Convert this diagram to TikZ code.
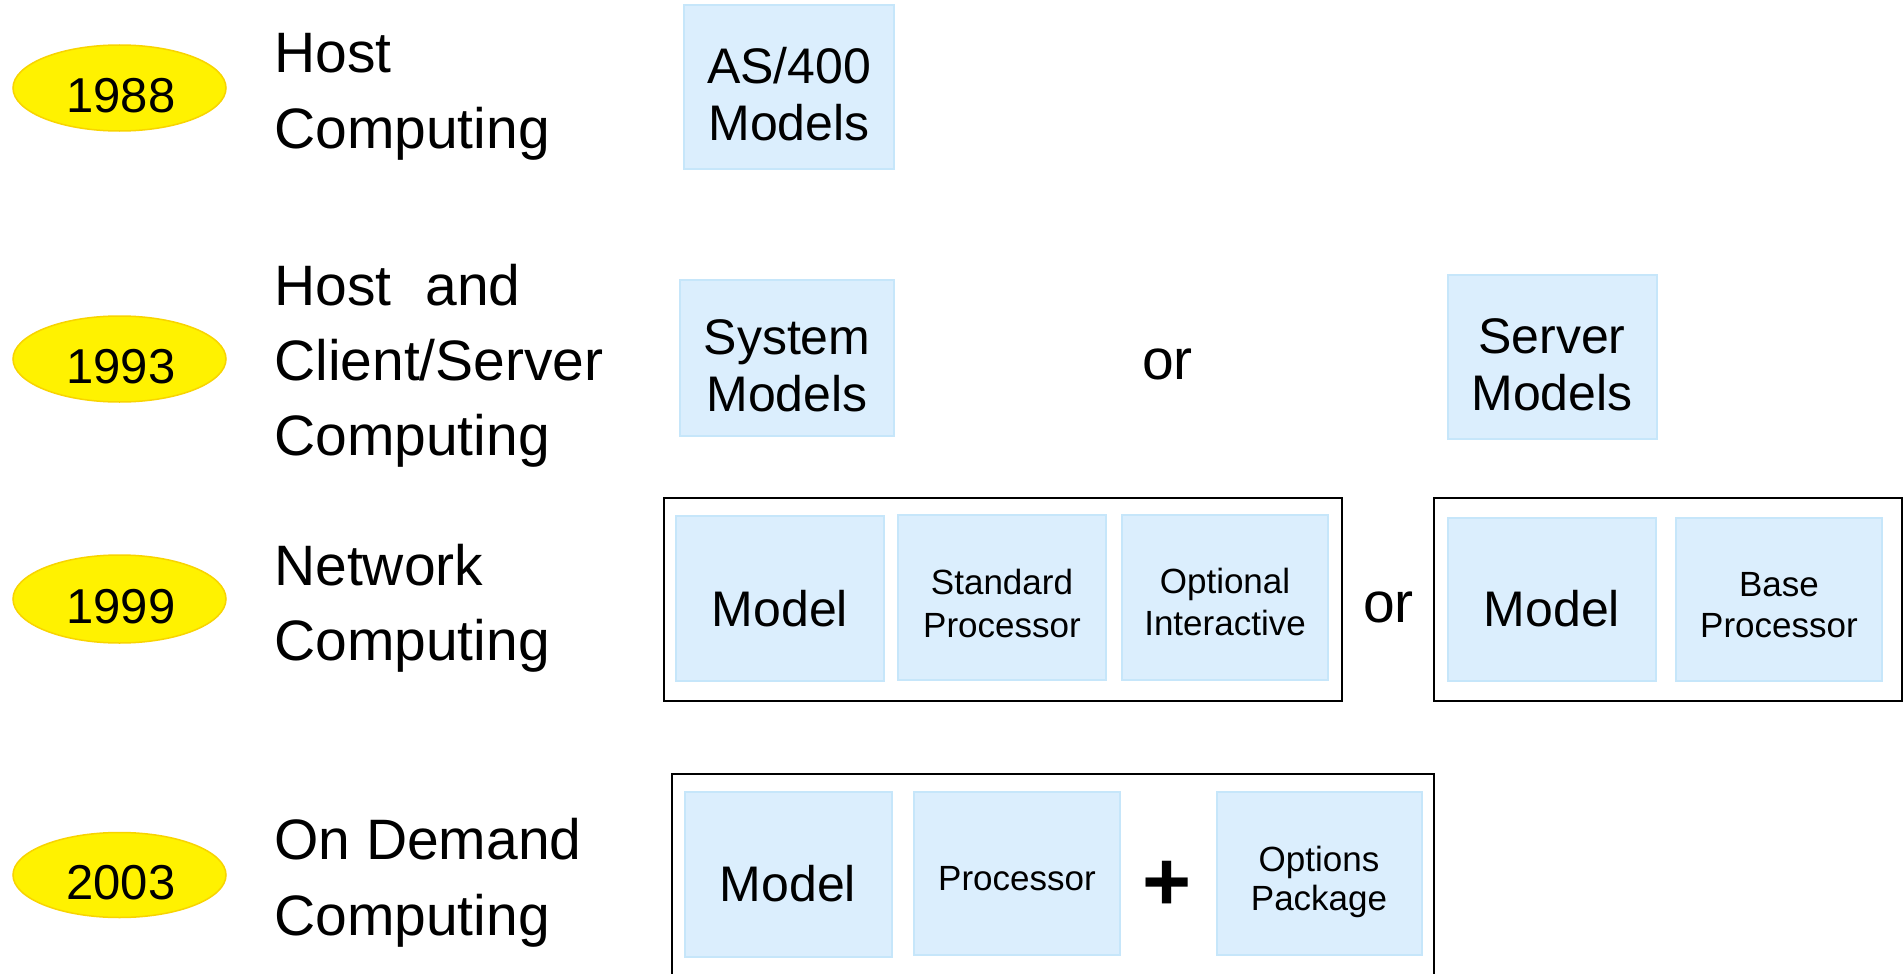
\documentclass[tikz,border=0pt]{standalone}
\usepackage{fontspec}
\setmainfont{Liberation Sans}
\usetikzlibrary{fit,shapes.geometric}
\definecolor{boxfill}{RGB}{219,238,253}
\definecolor{boxline}{RGB}{198,230,250}
\definecolor{ovalline}{RGB}{248,212,0}
\begin{document}
\begin{tikzpicture}[x=1pt,y=-1pt,
  yearoval/.style={ellipse, fill=yellow, draw=ovalline, line width=1.5pt, inner sep=0pt, minimum width=213pt},
  bluebox/.style={fill=boxfill, draw=boxline, line width=1.5pt, inner sep=0pt},
  framebox/.style={draw=black, line width=1.6pt, inner sep=0pt},
  lbl/.style={font=\fontsize{57}{75}\selectfont, anchor=base west, inner sep=0pt},
  yeartxt/.style={font=\fontsize{49}{55}\selectfont, anchor=base, inner sep=0pt},
  boxtxt/.style={font=\fontsize{50}{56}\selectfont, anchor=base, inner sep=0pt},
  smalltxt/.style={font=\fontsize{35}{42}\selectfont, anchor=base, inner sep=0pt},
  ortxt/.style={font=\fontsize{57}{60}\selectfont, anchor=base west, inner sep=0pt}
]
\fill[white] (0,0) rectangle (1904,974);
\useasboundingbox (0,0) rectangle (1904,974);

% ---------- year ovals ----------
\node[yearoval, minimum height=86pt] (o88) at (119.5,88) {};
\node[yeartxt] (y88) at (121,113) {1988};
\node[yearoval, minimum height=86pt] (o93) at (119.5,359) {};
\node[yeartxt] (y93) at (121,383) {1993};
\node[yearoval, minimum height=88pt] (o99) at (119.5,599) {};
\node[yeartxt] (y99) at (121,623) {1999};
\node[yearoval, minimum height=85pt] (o03) at (119.5,875) {};
\node[yeartxt] (y03) at (121,899) {2003};

% ---------- row labels ----------
\node[lbl] (l1a) at (274,73) {Host};
\node[lbl] (l1b) at (274,148) {Computing};
\node[lbl] (l2a) at (274,305) {Host\hspace{34pt}and};
\node[lbl] (l2b) at (274,380) {Client/Server};
\node[lbl] (l2c) at (274,455) {Computing};
\node[lbl] (l3a) at (274,585) {Network};
\node[lbl] (l3b) at (274,660) {Computing};
\node[lbl] (l4a) at (274,859) {On Demand};
\node[lbl] (l4b) at (274,935) {Computing};

% ---------- row 1 ----------
\node[bluebox, fit={(684,5) (894,169)}] (as400) {};
\node[boxtxt] (as400a) at (789,84) {AS/400};
\node[boxtxt] (as400b) at (789,140) {Models};

% ---------- row 2 ----------
\node[bluebox, fit={(680,280) (894,436)}] (sysm) {};
\node[boxtxt] (sysma) at (787,354) {System};
\node[boxtxt] (sysmb) at (787,411) {Models};
\node[ortxt] (or1) at (1142,379) {or};
\node[bluebox, fit={(1448,275) (1657,439)}] (srvm) {};
\node[boxtxt] (srvma) at (1552,353) {Server};
\node[boxtxt] (srvmb) at (1552,410) {Models};

% ---------- row 3 ----------
\node[framebox, fit={(664,498) (1342,701)}] (fr1) {};
\node[bluebox, fit={(676,516) (884,681)}] (m1) {};
\node[boxtxt] (m1t) at (780,626) {Model};
\node[bluebox, fit={(898,515) (1106,680)}] (sp) {};
\node[smalltxt] (spa) at (1002,594) {Standard};
\node[smalltxt] (spb) at (1002,637) {Processor};
\node[bluebox, fit={(1122,515) (1328,680)}] (oi) {};
\node[smalltxt] (oia) at (1225,593) {Optional};
\node[smalltxt] (oib) at (1225,635) {Interactive};
\node[ortxt] (or2) at (1363,622) {or};
\node[framebox, fit={(1434,498) (1902,701)}] (fr2) {};
\node[bluebox, fit={(1448,518) (1656,681)}] (m2) {};
\node[boxtxt] (m2t) at (1552,626) {Model};
\node[bluebox, fit={(1676,518) (1882,681)}] (bp) {};
\node[smalltxt] (bpa) at (1779,596) {Base};
\node[smalltxt] (bpb) at (1779,637) {Processor};

% ---------- row 4 ----------
\coordinate (f3bl) at (672,990);
\coordinate (f3tl) at (672,774);
\coordinate (f3tr) at (1434,774);
\coordinate (f3br) at (1434,990);
\draw[line width=1.6pt] (f3bl) -- (f3tl) -- (f3tr) -- (f3br);
\node[bluebox, fit={(685,792) (892,957)}] (m3) {};
\node[boxtxt] (m3t) at (788,901) {Model};
\node[bluebox, fit={(914,792) (1120,955)}] (pr) {};
\node[smalltxt] (prt) at (1017,890) {Processor};
\node[font=\fontsize{84}{84}\selectfont\bfseries, anchor=base, inner sep=0pt] (plus) at (1167,910) {+};
\node[bluebox, fit={(1217,792) (1422,955)}] (op) {};
\node[smalltxt] (opa) at (1319,871) {Options};
\node[smalltxt] (opb) at (1319,910) {Package};
\end{tikzpicture}
\end{document}
